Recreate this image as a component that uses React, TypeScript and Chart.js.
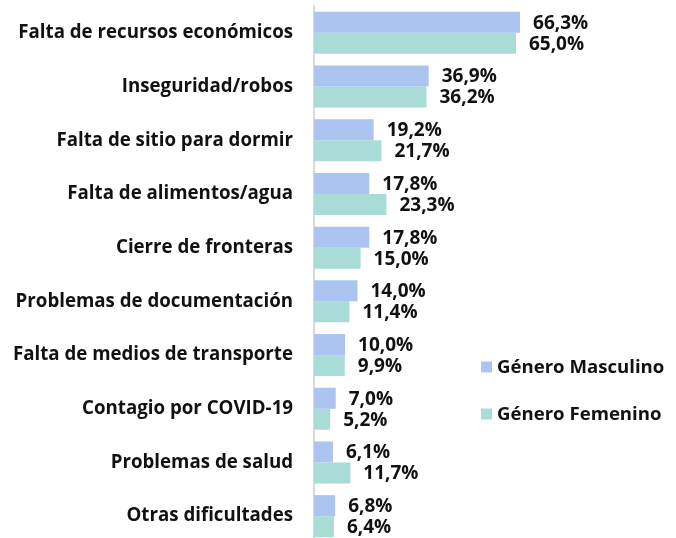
import React, { useEffect, useRef } from 'react';
import { Chart, registerables } from 'chart.js';

Chart.register(...registerables);

const categories = [
  'Falta de recursos económicos',
  'Inseguridad/robos',
  'Falta de sitio para dormir',
  'Falta de alimentos/agua',
  'Cierre de fronteras',
  'Problemas de documentación',
  'Falta de medios de transporte',
  'Contagio por COVID-19',
  'Problemas de salud',
  'Otras dificultades',
];
const masculino = [66.3, 36.9, 19.2, 17.8, 17.8, 14.0, 10.0, 7.0, 6.1, 6.8];
const femenino = [65.0, 36.2, 21.7, 23.3, 15.0, 11.4, 9.9, 5.2, 11.7, 6.4];
const seriesLabels = ['Género Masculino', 'Género Femenino'];
const seriesColors = ['#ACC5F0', '#A9DCD6'];

const FONT_FAMILY = '"Open Sans", Lato, sans-serif';
const LABEL_SIZE = 18.7;
const VALUE_SIZE = 19;
const LEGEND_SIZE = 18.6;
const TEXT_COLOR = '#111111';

const fmt = (v: number) => v.toFixed(1).replace('.', ',') + '%';

const valueLabels = {
  id: 'valueLabels',
  afterDatasetsDraw(chart: any) {
    const ctx = chart.ctx;
    ctx.save();
    ctx.font = `bold ${VALUE_SIZE}px ${FONT_FAMILY}`;
    ctx.fillStyle = TEXT_COLOR;
    ctx.textAlign = 'left';
    ctx.textBaseline = 'middle';
    chart.data.datasets.forEach((ds: any, di: number) => {
      const meta = chart.getDatasetMeta(di);
      meta.data.forEach((el: any, i: number) => {
        ctx.fillText(fmt(ds.data[i]), el.x + 13, el.y + 1);
      });
    });
    ctx.restore();
  },
};

const sideLegend = {
  id: 'sideLegend',
  afterDraw(chart: any) {
    const ctx = chart.ctx;
    ctx.save();
    ctx.font = `bold ${LEGEND_SIZE}px ${FONT_FAMILY}`;
    ctx.textAlign = 'left';
    ctx.textBaseline = 'middle';
    const x = 481;
    const ys = [367, 414];
    chart.data.datasets.forEach((ds: any, di: number) => {
      const y = ys[di];
      ctx.fillStyle = ds.backgroundColor;
      ctx.fillRect(x, y - 5.5, 11, 11);
      ctx.fillStyle = TEXT_COLOR;
      ctx.fillText(ds.label, x + 16, y + 1);
    });
    ctx.restore();
  },
};

export default function App() {
  const ref = useRef<HTMLCanvasElement | null>(null);

  useEffect(() => {
    document.body.style.margin = '0';
    document.body.style.overflow = 'hidden';
    const canvas = ref.current;
    if (!canvas) return;
    const chart = new Chart(canvas, {
      type: 'bar',
      data: {
        labels: categories,
        datasets: [
          { label: seriesLabels[0], data: masculino, backgroundColor: seriesColors[0] },
          { label: seriesLabels[1], data: femenino, backgroundColor: seriesColors[1] },
        ],
      },
      options: {
        indexAxis: 'y',
        responsive: false,
        animation: false,
        layout: { padding: { top: 6, bottom: 1, left: 0, right: 0 } },
        datasets: {
          bar: { categoryPercentage: 0.782, barPercentage: 1 },
        },
        plugins: {
          legend: { display: false },
          tooltip: { enabled: false },
        },
        scales: {
          x: { display: false, min: 0, max: 116.5 },
          y: {
            grid: { display: false, drawTicks: false },
            border: { display: true, color: '#D9D9D9', width: 2 },
            ticks: {
              color: TEXT_COLOR,
              padding: 21,
              font: { family: FONT_FAMILY, size: LABEL_SIZE, weight: 'bold' },
            },
            afterFit(scale: any) {
              scale.width = 314;
              scale.paddingTop = 0;
              scale.paddingBottom = 0;
            },
          },
        },
      } as any,
      plugins: [valueLabels, sideLegend],
    });
    return () => chart.destroy();
  }, []);

  return <canvas ref={ref} width={676} height={544} style={{ display: 'block' }} />;
}
